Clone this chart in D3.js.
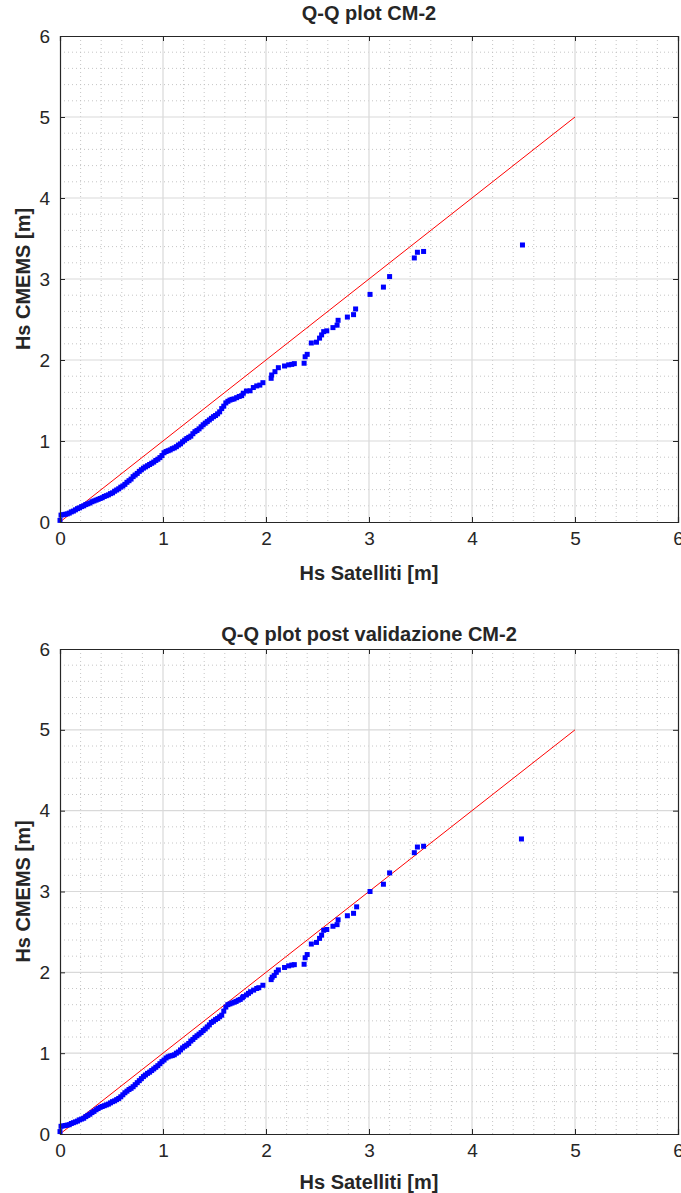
<!DOCTYPE html>
<html>
<head>
<meta charset="utf-8">
<script src="https://cdn.jsdelivr.net/npm/d3@7"></script>
<style>
  html, body { margin: 0; padding: 0; background: #fff; }
  svg { display: block; }
  text { font-family: Arial, "Liberation Sans", Helvetica, sans-serif; fill: #262626; }
</style>
</head>
<body>
<svg id="chart" width="681" height="1193"></svg>
<script>
// ---------- DATA ----------
const titles = ["Q-Q plot CM-2", "Q-Q plot post validazione CM-2"];
const xLabel = "Hs Satelliti [m]";
const yLabel = "Hs CMEMS [m]";
const xTicks = [0, 1, 2, 3, 4, 5, 6];
const yTicks = [0, 1, 2, 3, 4, 5, 6];
const refLine = [[0, 0], [5, 5]];

// Q-Q points [Hs Satelliti, Hs CMEMS] before validation
const qqPre = [
  [0.00,0.02],[0.01,0.085],[0.03,0.09],[0.05,0.095],[0.07,0.10],[0.09,0.11],[0.11,0.125],[0.13,0.135],
  [0.15,0.15],[0.17,0.165],[0.19,0.175],[0.21,0.19],[0.23,0.20],[0.25,0.215],[0.27,0.225],[0.29,0.235],
  [0.31,0.25],[0.33,0.26],[0.35,0.27],[0.37,0.28],[0.39,0.29],[0.41,0.30],[0.43,0.315],[0.45,0.325],
  [0.47,0.335],[0.49,0.35],[0.51,0.36],[0.53,0.38],[0.55,0.395],[0.57,0.41],[0.59,0.43],[0.61,0.445],
  [0.63,0.465],[0.65,0.49],[0.67,0.51],[0.69,0.53],[0.71,0.56],[0.73,0.58],[0.75,0.60],[0.77,0.625],
  [0.79,0.645],[0.81,0.665],[0.83,0.68],[0.85,0.695],[0.87,0.71],[0.89,0.725],[0.91,0.74],[0.93,0.76],
  [0.95,0.775],[0.97,0.795],[0.99,0.82],[1.01,0.855],[1.03,0.87],[1.05,0.88],[1.07,0.89],[1.09,0.905],
  [1.11,0.915],[1.13,0.93],[1.15,0.95],[1.17,0.965],[1.19,0.99],[1.21,1.01],[1.23,1.03],[1.25,1.045],
  [1.27,1.06],[1.29,1.09],[1.31,1.115],[1.33,1.13],[1.35,1.15],[1.37,1.175],[1.39,1.20],[1.41,1.22],
  [1.43,1.24],[1.45,1.26],[1.47,1.28],[1.49,1.30],[1.51,1.315],[1.53,1.335],[1.55,1.36],[1.57,1.40],
  [1.59,1.43],[1.61,1.47],[1.63,1.49],[1.65,1.505],[1.67,1.514],[1.69,1.52],[1.715,1.535],[1.74,1.55],
  [1.764,1.56],[1.78,1.59],[1.81,1.617],[1.845,1.62],[1.877,1.66],[1.91,1.68],[1.94,1.69],[1.97,1.72],
  [2.05,1.774],[2.055,1.815],[2.087,1.856],[2.12,1.905],[2.18,1.926],[2.22,1.94],[2.25,1.946],[2.275,1.955],
  [2.37,1.96],[2.38,2.04],[2.40,2.07],[2.44,2.21],[2.49,2.22],[2.52,2.27],[2.54,2.31],[2.56,2.35],
  [2.59,2.36],[2.65,2.40],[2.69,2.43],[2.70,2.49],[2.79,2.53],[2.85,2.56],[2.87,2.63],[3.01,2.81],
  [3.14,2.90],[3.20,3.03],[3.44,3.26],[3.47,3.33],[3.53,3.34],[4.49,3.42]
];

// Q-Q points [Hs Satelliti, Hs CMEMS] after validation
const qqPost = [
  [0.00,0.03],[0.01,0.095],[0.03,0.10],[0.05,0.105],[0.07,0.11],[0.09,0.115],[0.11,0.13],[0.13,0.14],
  [0.15,0.15],[0.17,0.16],[0.19,0.175],[0.21,0.185],[0.23,0.195],[0.25,0.215],[0.27,0.23],[0.29,0.245],
  [0.31,0.265],[0.33,0.28],[0.35,0.30],[0.37,0.315],[0.39,0.33],[0.41,0.34],[0.43,0.35],[0.45,0.36],
  [0.47,0.37],[0.49,0.385],[0.51,0.40],[0.53,0.41],[0.55,0.425],[0.57,0.44],[0.59,0.46],[0.61,0.485],
  [0.63,0.51],[0.65,0.53],[0.67,0.55],[0.69,0.565],[0.71,0.585],[0.73,0.61],[0.75,0.635],[0.77,0.66],
  [0.79,0.685],[0.81,0.71],[0.83,0.73],[0.85,0.75],[0.87,0.765],[0.89,0.785],[0.91,0.805],[0.93,0.825],
  [0.95,0.845],[0.97,0.87],[0.99,0.895],[1.01,0.915],[1.03,0.94],[1.05,0.955],[1.07,0.965],[1.09,0.97],
  [1.11,0.98],[1.13,1.00],[1.15,1.015],[1.17,1.04],[1.19,1.065],[1.21,1.085],[1.23,1.10],[1.25,1.12],
  [1.27,1.15],[1.29,1.17],[1.31,1.195],[1.33,1.215],[1.35,1.235],[1.37,1.255],[1.39,1.28],[1.41,1.30],
  [1.43,1.325],[1.45,1.35],[1.47,1.38],[1.49,1.395],[1.51,1.415],[1.53,1.43],[1.55,1.45],[1.57,1.47],
  [1.59,1.52],[1.61,1.57],[1.63,1.60],[1.65,1.61],[1.67,1.62],[1.69,1.63],[1.71,1.64],[1.73,1.655],
  [1.75,1.665],[1.77,1.685],[1.78,1.70],[1.81,1.72],[1.83,1.74],[1.85,1.76],[1.88,1.78],[1.91,1.80],
  [1.93,1.81],[1.97,1.84],[2.05,1.91],[2.06,1.94],[2.08,1.96],[2.10,2.00],[2.12,2.03],[2.18,2.06],
  [2.22,2.08],[2.25,2.09],[2.275,2.095],[2.37,2.10],[2.38,2.18],[2.40,2.22],[2.44,2.35],[2.49,2.37],
  [2.52,2.42],[2.54,2.46],[2.56,2.52],[2.59,2.53],[2.65,2.57],[2.69,2.59],[2.70,2.65],[2.79,2.70],
  [2.85,2.73],[2.88,2.81],[3.01,3.00],[3.14,3.09],[3.20,3.23],[3.44,3.48],[3.47,3.55],[3.53,3.56],
  [4.48,3.65]
];

// ---------- LAYOUT ----------
const svg = d3.select("#chart");
const panels = [
  { data: qqPre,  title: titles[0], left: 60, right: 678, top: 36,  bottom: 522, titleY: 20, xLabelY: 580 },
  { data: qqPost, title: titles[1], left: 60, right: 678, top: 649, bottom: 1134, titleY: 641, xLabelY: 1189 }
];
const axisColor = "#262626";
const minorVals = d3.range(0, 30).map(i => i / 5).filter(v => Math.abs(v - Math.round(v)) > 1e-6);

panels.forEach(p => {
  const x = d3.scaleLinear().domain([0, 6]).range([p.left, p.right]);
  const y = d3.scaleLinear().domain([0, 6]).range([p.bottom, p.top]);
  const g = svg.append("g");

  // minor grid (dotted)
  g.append("g").selectAll("line.mx").data(minorVals).join("line")
    .attr("x1", d => x(d)).attr("x2", d => x(d)).attr("y1", p.top).attr("y2", p.bottom)
    .attr("stroke", "#c0c0c0").attr("stroke-width", 0.9).attr("stroke-dasharray", "1,3");
  g.append("g").selectAll("line.my").data(minorVals).join("line")
    .attr("y1", d => y(d)).attr("y2", d => y(d)).attr("x1", p.left).attr("x2", p.right)
    .attr("stroke", "#c0c0c0").attr("stroke-width", 0.9).attr("stroke-dasharray", "1,3");

  // major grid
  g.append("g").selectAll("line").data(xTicks.slice(1, -1)).join("line")
    .attr("x1", d => x(d)).attr("x2", d => x(d)).attr("y1", p.top).attr("y2", p.bottom)
    .attr("stroke", "#d9d9d9").attr("stroke-width", 1.2);
  g.append("g").selectAll("line").data(yTicks.slice(1, -1)).join("line")
    .attr("y1", d => y(d)).attr("y2", d => y(d)).attr("x1", p.left).attr("x2", p.right)
    .attr("stroke", "#d9d9d9").attr("stroke-width", 1.2);

  // reference line
  g.append("line")
    .attr("x1", x(refLine[0][0])).attr("y1", y(refLine[0][1]))
    .attr("x2", x(refLine[1][0])).attr("y2", y(refLine[1][1]))
    .attr("stroke", "#ff0000").attr("stroke-width", 1);

  // points
  const s = 5;
  g.append("g").selectAll("rect").data(p.data).join("rect")
    .attr("x", d => x(d[0]) - s / 2).attr("y", d => y(d[1]) - s / 2)
    .attr("width", s).attr("height", s).attr("fill", "#0000ff");

  // axes (box with inward ticks)
  const tl = 5;
  const axB = d3.axisBottom(x).tickValues(xTicks).tickSize(-tl).tickPadding(10).tickFormat(d3.format("d"));
  const axT = d3.axisTop(x).tickValues(xTicks).tickSize(-tl).tickFormat("");
  const axL = d3.axisLeft(y).tickValues(yTicks).tickSize(-tl).tickPadding(10).tickFormat(d3.format("d"));
  const axR = d3.axisRight(y).tickValues(yTicks).tickSize(-tl).tickFormat("");

  [[axB, `translate(0,${p.bottom})`], [axT, `translate(0,${p.top})`],
   [axL, `translate(${p.left},0)`], [axR, `translate(${p.right},0)`]].forEach(([ax, tr]) => {
    const a = g.append("g").attr("transform", tr).call(ax);
    a.select(".domain").attr("stroke", axisColor).attr("stroke-width", 1.2);
    a.selectAll(".tick line").attr("stroke", axisColor).attr("stroke-width", 1);
    a.selectAll(".tick text").attr("fill", axisColor)
      .style("font-family", "Arial, 'Liberation Sans', sans-serif").style("font-size", "19px");
  });

  // title
  g.append("text").attr("x", (p.left + p.right) / 2).attr("y", p.titleY)
    .attr("text-anchor", "middle").style("font-size", "20px").style("font-weight", "bold")
    .text(p.title);
  // x label
  g.append("text").attr("x", (p.left + p.right) / 2).attr("y", p.xLabelY)
    .attr("text-anchor", "middle").style("font-size", "20px").style("font-weight", "bold")
    .text(xLabel);
  // y label
  g.append("text").attr("transform", `translate(30,${(p.top + p.bottom) / 2}) rotate(-90)`)
    .attr("text-anchor", "middle").style("font-size", "20px").style("font-weight", "bold")
    .text(yLabel);
});
</script>
</body>
</html>
